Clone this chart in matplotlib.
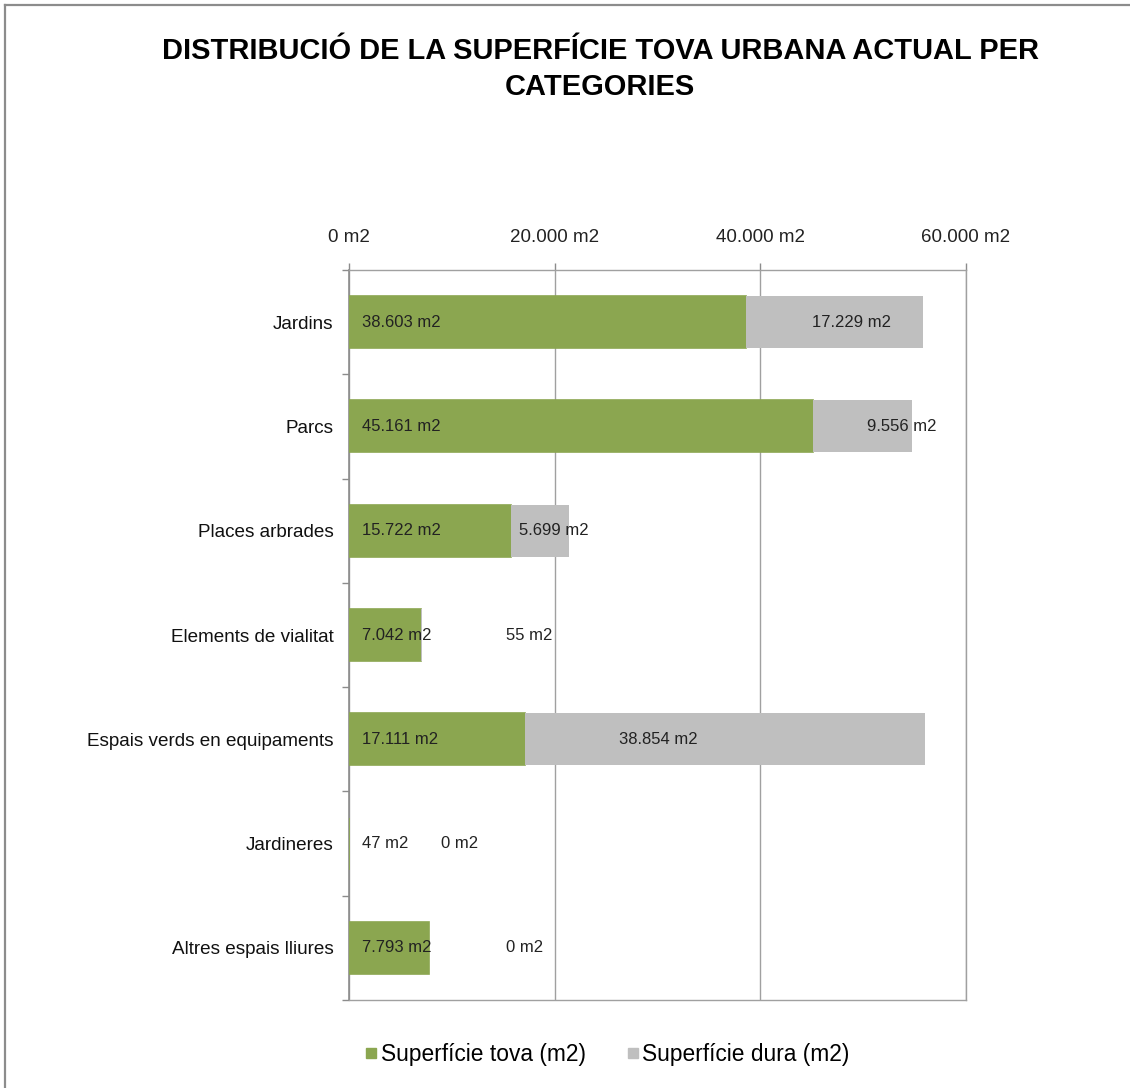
import matplotlib
matplotlib.use("Agg")
import matplotlib.pyplot as plt
from matplotlib.lines import Line2D
from matplotlib.ticker import FixedLocator, FuncFormatter

plt.rcParams['font.family'] = ['Liberation Sans', 'DejaVu Sans']

categories = ["Jardins", "Parcs", "Places arbrades", "Elements de vialitat",
              "Espais verds en equipaments", "Jardineres", "Altres espais lliures"]
tova = [38603, 45161, 15722, 7042, 17111, 47, 7793]
dura = [17229, 9556, 5699, 55, 38854, 0, 0]
x_ticks = [0, 20000, 40000, 60000]
series_names = ["Superfície tova (m2)", "Superfície dura (m2)"]
title = "DISTRIBUCIÓ DE LA SUPERFÍCIE TOVA URBANA ACTUAL PER\nCATEGORIES"

# layout: x-centres (data units) where the hard-surface labels are drawn
dura_label_x = [48914, 53776, 19935, 17504, 30049, 10794, 17115]

GREEN = "#8BA650"
GRAY = "#BFBFBF"
AXGRAY = "#8C8C8C"


def fmt(v):
    return f"{v:,.0f}".replace(",", ".") + " m2"


W, H = 1130, 1088
fig = plt.figure(figsize=(W / 100, H / 100), dpi=100)
ax = fig.add_axes([349 / W, 1 - 1000 / H, (966 - 349) / W, (1000 - 270) / H])

y = list(range(len(categories)))
ax.barh(y, tova, height=0.5, color=GREEN, edgecolor=GREEN, linewidth=1.2, zorder=3)
ax.barh(y, dura, left=tova, height=0.5, color=GRAY, linewidth=0, zorder=3)

ax.set_xlim(0, 60000)
ax.set_ylim(len(categories) - 0.5, -0.5)

ax.xaxis.tick_top()
ax.xaxis.set_major_locator(FixedLocator(x_ticks))
ax.xaxis.set_major_formatter(FuncFormatter(lambda v, p: fmt(v)))
ax.tick_params(axis='x', direction='out', length=5, width=1, color=AXGRAY,
               pad=12, labelsize=13.5, labelcolor="#222222")
ax.grid(axis='x', color="#A0A0A0", linewidth=1, zorder=0)

ax.set_yticks(y)
ax.set_yticklabels(categories)
ax.tick_params(axis='y', which='major', length=0, pad=11, labelsize=13.6,
               labelcolor="#111111")
ax.set_yticks([i - 0.5 for i in range(len(categories) + 1)], minor=True)
ax.tick_params(axis='y', which='minor', direction='out', length=5, width=1,
               color=AXGRAY)

for side in ['top', 'bottom', 'right']:
    ax.spines[side].set_color("#A0A0A0")
    ax.spines[side].set_linewidth(1)
ax.spines['left'].set_color(AXGRAY)
ax.spines['left'].set_linewidth(1.2)

for i in y:
    ax.annotate(fmt(tova[i]), xy=(0, i), xytext=(13, 0), textcoords='offset pixels',
                ha='left', va='center', fontsize=12, color="#222222", zorder=5)
    ax.text(dura_label_x[i], i, fmt(dura[i]), ha='center', va='center',
            fontsize=12, color="#222222", zorder=5)

fig.text(600 / W, 1 - 69 / H, title, ha='center', va='center',
         fontsize=20.85, fontweight='bold', linespacing=1.33, color="#000000")

handles = [Line2D([], [], marker='s', linestyle='none', markersize=7.5,
                  markerfacecolor=c, markeredgecolor=c) for c in (GREEN, GRAY)]
fig.legend(handles, series_names, loc='center', bbox_to_anchor=(607 / W, 1 - 1054 / H),
           ncol=2, frameon=False, fontsize=16.4, handlelength=0.6, handletextpad=0.12,
           columnspacing=1.75, borderpad=0)

# figure border (left and top edges)
fig.add_artist(Line2D([5 / W, 5 / W], [0, 1 - 5 / H], transform=fig.transFigure,
                      color="#8C8C8C", linewidth=1.6))
fig.add_artist(Line2D([5 / W, 1], [1 - 5 / H, 1 - 5 / H], transform=fig.transFigure,
                      color="#8C8C8C", linewidth=1.6))

fig.savefig("out.png", dpi=100)
